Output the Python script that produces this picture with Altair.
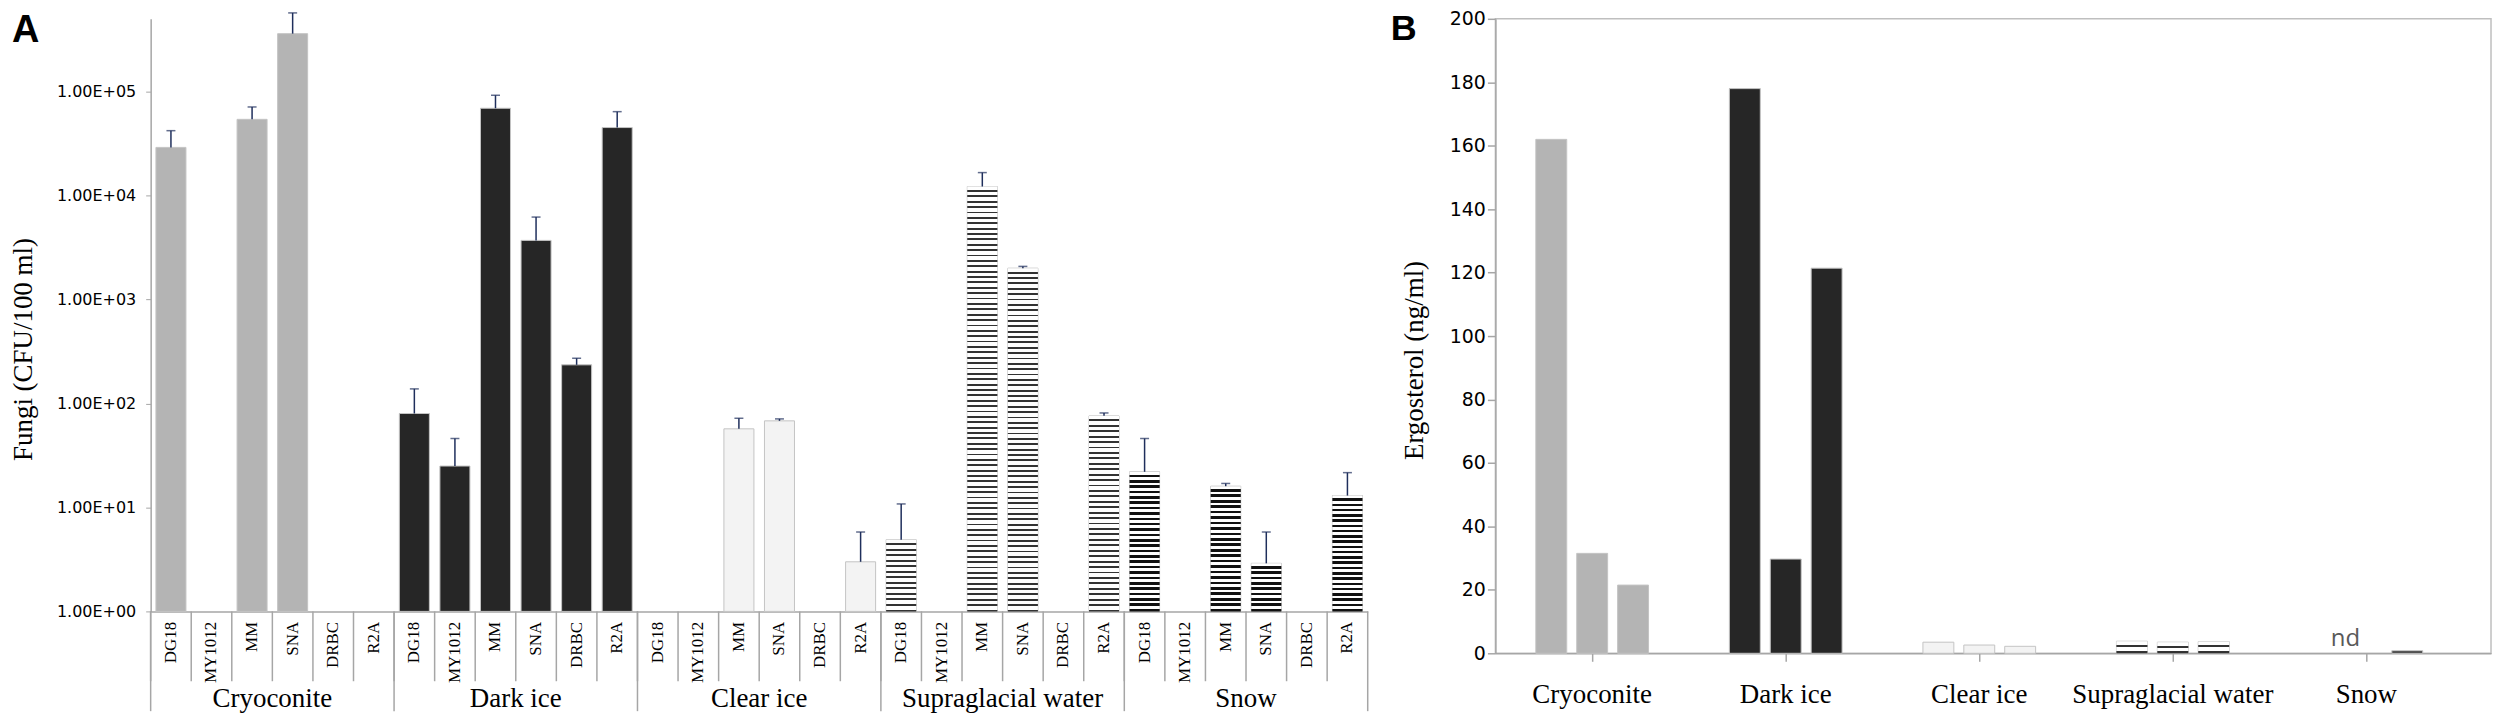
import math
import altair as alt
import pandas as pd

# ---------------- data ----------------
groups = ["Cryoconite", "Dark ice", "Clear ice", "Supraglacial water", "Snow"]
media = ["DG18", "MY1012", "MM", "SNA", "DRBC", "R2A"]

# Panel A: fungi (CFU/100 ml), mean and top of error bar
cryoconite_cfu = [2.9e4, None, 5.4e4, 3.6e5, None, None]
cryoconite_cfu_err = [4.2e4, None, 7.1e4, 5.7e5, None, None]
dark_ice_cfu = [80, 25, 6.9e4, 3.7e3, 235, 4.5e4]
dark_ice_cfu_err = [138, 46, 9.2e4, 6.2e3, 272, 6.4e4]
clear_ice_cfu = [None, None, 57, 68, None, 3.0]
clear_ice_cfu_err = [None, None, 72, 71, None, 5.8]
water_cfu = [4.9, None, 1.22e4, 2.0e3, None, 76]
water_cfu_err = [10.8, None, 1.66e4, 2.08e3, None, 81]
snow_cfu = [22, None, 16, 2.9, None, 13]
snow_cfu_err = [46, None, 17, 5.8, None, 21.6]

y_ticks_a = [1, 10, 100, 1000, 10000, 100000]
y_tick_labels_a = ["1.00E+00", "1.00E+01", "1.00E+02", "1.00E+03", "1.00E+04", "1.00E+05"]

# Panel B: ergosterol (ng/ml), three replicates per habitat
ergo_cryoconite = [162, 31.5, 21.5]
ergo_dark_ice = [178, 29.7, 121.4]
ergo_clear_ice = [3.5, 2.6, 2.2]
ergo_water = [3.8, 3.5, 3.7]
ergo_snow = [None, None, 0.8]
snow_note = "nd"

y_ticks_b = [0, 20, 40, 60, 80, 100, 120, 140, 160, 180, 200]

# ---------------- styles ----------------
fills = ["#b4b4b4", "#262626", "#f3f3f3", "#8e8e8e", "#333333"]
err_color = "#1f2f5c"
axis_gray = "#a6a6a6"
serif = "Liberation Serif"
sans = "DejaVu Sans"

W_A, H_A = 1220, 594
W_B, H_B = 998, 636
Y_MAX_A = 5e5
STRIPE_PERIOD = 5.4
# texture per group: (dark colour, dark fraction) for striped groups
stripe_style = {"Supraglacial water": ("#333333", 0.34), "Snow": ("#111111", 0.48)}

# ---------------- tables ----------------
cfu_means = [cryoconite_cfu, dark_ice_cfu, clear_ice_cfu, water_cfu, snow_cfu]
cfu_errs = [cryoconite_cfu_err, dark_ice_cfu_err, clear_ice_cfu_err, water_cfu_err, snow_cfu_err]
rows = []
keys = []
for g, vals, errs in zip(groups, cfu_means, cfu_errs):
    for m, v, e in zip(media, vals, errs):
        k = f"{g}|{m}"
        keys.append(k)
        rows.append({"group": g, "medium": m, "key": k, "value": v, "err": e})
df_a = pd.DataFrame(rows)

ergo_all = [ergo_cryoconite, ergo_dark_ice, ergo_clear_ice, ergo_water, ergo_snow]
rows_b = []
for g, vals in zip(groups, ergo_all):
    for i, v in enumerate(vals):
        rows_b.append({"group": g, "rep": i, "key": f"{g}|{i}", "value": v})
df_b = pd.DataFrame(rows_b)
df_nd = pd.DataFrame([{"group": "Snow", "rep": 0, "label": snow_note}])

color_enc = alt.Color("group:N", scale=alt.Scale(domain=groups, range=fills), legend=None)


def stripes(px_height, dark, frac):
    """Horizontal stripe texture as a gradient fill (hard-edged stops)."""
    n = max(1, int(round(px_height / STRIPE_PERIOD)))
    stops = []
    for i in range(n):
        a = i / n
        b = (i + 1 - frac) / n
        c = (i + 1) / n
        stops += [
            {"offset": a, "color": "#ffffff"},
            {"offset": b, "color": "#ffffff"},
            {"offset": b, "color": dark},
            {"offset": c, "color": dark},
        ]
    return {"gradient": "linear", "x1": 0, "y1": 0, "x2": 0, "y2": 1, "stops": stops}


# ---------------- panel A ----------------
x_scale_a = alt.Scale(domain=keys, paddingInner=0, paddingOuter=0)
x_axis_a = alt.Axis(
    labelExpr="split(datum.label, '|')[1]", labelAngle=270, labelAlign="right",
    labelBaseline="middle", labelFont=serif, labelFontSize=17, labelColor="#000",
    labelPadding=10, ticks=False, domainColor=axis_gray, domainWidth=1.5, title=None,
)
label_expr_a = "[" + ",".join(f"'{s}'" for s in y_tick_labels_a) + "][round(log(datum.value)/LN10)]"
y_scale_a = alt.Scale(type="log", domain=[1, Y_MAX_A])
y_axis_a = alt.Axis(
    values=y_ticks_a, labelExpr=label_expr_a, labelFont=sans, labelFontSize=16,
    labelColor="#000", tickSize=5, tickColor=axis_gray, domainColor=axis_gray,
    domainWidth=1.5, labelPadding=10, grid=False,
    title="Fungi (CFU/100 ml)", titleFont=serif, titleFontSize=27,
    titleFontWeight="normal", titleColor="#000", titleX=-127, titleY=331,
    titleAngle=270, titleAlign="center", titleBaseline="middle",
)


def xa(bp=None):
    if bp is None:
        return alt.X("key:N", scale=x_scale_a, axis=x_axis_a)
    return alt.X("key:N", scale=x_scale_a, axis=x_axis_a, bandPosition=bp)


ya = alt.Y("value:Q", scale=y_scale_a, axis=y_axis_a)
base_a = alt.Chart(df_a)

bars_a = base_a.mark_bar(width={"band": 0.74}, stroke="#c4c4c4", strokeWidth=1).encode(
    x=xa(), y=ya, y2=alt.Y2(datum=1), color=color_enc
)
texture_a = []
for r in rows:
    if r["group"] in stripe_style and r["value"] is not None:
        dark, frac = stripe_style[r["group"]]
        h = math.log10(r["value"]) / math.log10(Y_MAX_A) * H_A
        texture_a.append(
            base_a.transform_filter(alt.datum.key == r["key"]).mark_bar(
                width={"band": 0.74}, color=stripes(h, dark, frac)
            ).encode(x=xa(), y=ya, y2=alt.Y2(datum=1))
        )
err_a = base_a.mark_rule(color=err_color, strokeWidth=1.5).encode(
    x=xa(), y=ya, y2="err:Q"
)
cap_a = base_a.mark_tick(color=err_color, thickness=1.5, size=9, orient="horizontal").encode(
    x=xa(), y=alt.Y("err:Q", scale=y_scale_a, axis=y_axis_a)
)
sep_a = base_a.mark_rule(color=axis_gray, strokeWidth=1.5).encode(
    x=xa(0), y=alt.value(H_A), y2=alt.value(H_A + 70)
)
grp_sep_a = base_a.transform_filter(alt.datum.medium == media[0]).mark_rule(
    color=axis_gray, strokeWidth=1.5
).encode(x=xa(0), y=alt.value(H_A), y2=alt.value(H_A + 100))
end_sep_a = base_a.transform_filter(alt.datum.key == keys[-1]).mark_rule(
    color=axis_gray, strokeWidth=1.5
).encode(x=xa(1), y=alt.value(H_A), y2=alt.value(H_A + 100))
grp_lab_a = base_a.transform_filter(alt.datum.medium == "MM").mark_text(
    font=serif, fontSize=27, baseline="middle", align="center", color="#000"
).encode(x=xa(1), y=alt.value(H_A + 88), text="group:N")
tag_a = alt.Chart(pd.DataFrame({"t": ["A"]})).mark_text(
    font="Liberation Sans", fontWeight="bold", fontSize=38, align="left",
    baseline="alphabetic", color="#000"
).encode(x=alt.value(-139), y=alt.value(23), text="t:N")

panel_a = alt.layer(
    bars_a, *texture_a, err_a, cap_a, sep_a, grp_sep_a, end_sep_a, grp_lab_a, tag_a
).properties(width=W_A, height=H_A)

# ---------------- panel B ----------------
x_scale_b = alt.Scale(domain=groups, paddingInner=0, paddingOuter=0.072, align=0)
x_axis_b = alt.Axis(
    labelAngle=0, labelFont=serif, labelFontSize=27, labelColor="#000",
    labelPadding=20, labelLimit=500, tickSize=8, tickColor=axis_gray, tickWidth=1.5,
    domainColor=axis_gray, domainWidth=1.5, title=None,
)
y_scale_b = alt.Scale(domain=[0, 200])
y_axis_b = alt.Axis(
    values=y_ticks_b, labelFont=sans, labelFontSize=19, labelColor="#000",
    tickSize=8, tickColor=axis_gray, tickWidth=1.5, domainColor=axis_gray,
    domainWidth=1.5, labelPadding=2, grid=False,
    title="Ergosterol (ng/ml)", titleFont=serif, titleFontSize=27,
    titleFontWeight="normal", titleColor="#000", titleX=-81, titleY=342,
    titleAngle=270, titleAlign="center", titleBaseline="middle",
)
xb = alt.X("group:N", scale=x_scale_b, axis=x_axis_b)
xob = alt.XOffset("rep:N", scale=alt.Scale(paddingInner=0.244, paddingOuter=0.988))
yb = alt.Y("value:Q", scale=y_scale_b, axis=y_axis_b)

base_b = alt.Chart(df_b)
bars_b = base_b.mark_bar(stroke="#c4c4c4", strokeWidth=1).encode(
    x=xb, xOffset=xob, y=yb, color=color_enc
)
texture_b = []
for r in rows_b:
    if r["group"] == "Supraglacial water" and r["value"] is not None:
        dark, frac = stripe_style[r["group"]]
        h = r["value"] / 200 * H_B
        texture_b.append(
            base_b.transform_filter(alt.datum.key == r["key"]).mark_bar(
                color=stripes(h, dark, frac)
            ).encode(x=xb, xOffset=xob, y=yb)
        )
nd_b = alt.Chart(df_nd).mark_text(
    font="Open Sans", fontSize=24, color="#595959", baseline="alphabetic",
    align="center", dx=20, dy=-7
).encode(x=xb, xOffset=xob, y=alt.Y(datum=0, scale=y_scale_b, axis=y_axis_b), text="label:N")
tag_b = alt.Chart(pd.DataFrame({"t": ["B"]})).mark_text(
    font="Liberation Sans", fontWeight="bold", fontSize=36, align="left",
    baseline="alphabetic", color="#000"
).encode(x=alt.value(-105), y=alt.value(21), text="t:N")

panel_b = alt.layer(bars_b, *texture_b, nd_b, tag_b).properties(
    width=W_B, height=H_B,
    view=alt.ViewBackground(stroke="#bfbfbf", strokeWidth=1.5),
)

chart = alt.hconcat(panel_a, panel_b, spacing=21).properties(
    padding={"left": 2, "top": 0, "right": 0, "bottom": 0}
).configure_view(stroke=None)

chart.save("out.html", embed_options={"renderer": "svg", "actions": False})
